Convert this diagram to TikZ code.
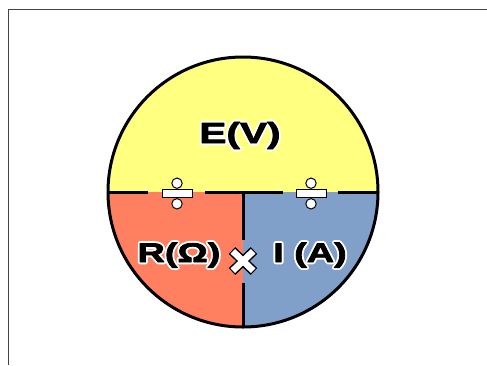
\documentclass[tikz,border=0pt]{standalone}
\usepackage{fontspec}
\usetikzlibrary{calc}
\newfontfamily\lblfont{Liberation Sans Bold}[FakeStretch=1.4]
\definecolor{cyel}{RGB}{255,255,128}
\definecolor{cred}{RGB}{255,128,96}
\definecolor{cblu}{RGB}{128,160,202}
\definecolor{cframe}{RGB}{68,68,68}
\tikzset{
  lbl/.style={inner sep=0pt, anchor=base},
  bigtxt/.style={font={\lblfont\fontsize{29pt}{29pt}\selectfont}},
  midtxt/.style={font={\lblfont\fontsize{27pt}{27pt}\selectfont}},
  rim/.style={line width=3pt, black},
  divider/.style={line width=3pt, black},
  opsym/.style={fill=white, draw=black, line width=1pt},
  frameline/.style={draw=cframe, line width=1.5pt}
}
\newcommand{\haloOn}{\special{pdf:literal direct 1 Tr 4.6 w 1 1 1 RG 1 j}}
\newcommand{\boldOn}{\special{pdf:literal direct 2 Tr 0.8 w 0 0 0 RG 1 j}}
\newcommand{\haloOff}{\special{pdf:literal direct 0 Tr}}
\newcommand{\haloText}[4]{%
  \node[lbl,#3,text=white] at (#2) {\haloOn#4\haloOff};
  \node[lbl,#3,text=black] (#1) at (#2) {\boldOn#4\haloOff};}
\newcommand{\divSym}[1]{%
  \path[opsym] ($(#1)+(-15,-4.3)$) rectangle ($(#1)+(15,4.3)$);
  \path[opsym] ($(#1)+(0,-10.3)$) circle[radius=5.2pt];
  \path[opsym] ($(#1)+(0,10.3)$) circle[radius=5.2pt];}
\begin{document}
\begin{tikzpicture}[x=1pt,y=-1pt]
\useasboundingbox (0,0) rectangle (487,365);
% frame
\coordinate (fTR) at (487,9.5);
\coordinate (fTL) at (8.5,9.5);
\coordinate (fBL) at (8.5,365);
\draw[frameline] (fTR) -- (fTL) -- (fBL);
% circle
\coordinate (O) at (243,192);
\coordinate (Lft) at (108,192);
\coordinate (Rgt) at (378,192);
\fill[cyel] (Lft) arc[start angle=180, end angle=0, radius=135pt] -- cycle;
\fill[cred] (O) -- (Lft) arc[start angle=180, end angle=270, radius=135pt] -- cycle;
\fill[cblu] (O) -- (Rgt) arc[start angle=0, end angle=-90, radius=135pt] -- cycle;
\draw[rim] (O) circle[radius=135pt];
% dividers
\coordinate (h1) at (148,192);
\coordinate (h2) at (205,192);
\coordinate (h3) at (283,192);
\coordinate (h4) at (338,192);
\coordinate (v1) at (243,240);
\coordinate (v2) at (243,283);
\coordinate (vB) at (243,327);
\draw[divider] (Lft) -- (h1);
\draw[divider] (h2) -- (h3);
\draw[divider] (h4) -- (Rgt);
\draw[divider] (O) -- (v1);
\draw[divider] (v2) -- (vB);
% operators
\coordinate (d1) at (177,193.5);
\coordinate (d2) at (311,193.5);
\divSym{d1}
\divSym{d2}
\coordinate (X) at (243,261);
\draw[line width=9.5pt, black] ($(X)+(-11,-10.5)$) -- ($(X)+(11,10.5)$);
\draw[line width=9.5pt, black] ($(X)+(-11,10.5)$) -- ($(X)+(11,-10.5)$);
\draw[line width=6.5pt, white] ($(X)+(-10.2,-9.7)$) -- ($(X)+(10.2,9.7)$);
\draw[line width=6.5pt, white] ($(X)+(-10.2,9.7)$) -- ($(X)+(10.2,-9.7)$);
% labels
\coordinate (pE) at (240,143);
\coordinate (pR) at (179,262);
\coordinate (pI) at (310,262);
\haloText{tE}{pE}{bigtxt}{E(V)}
\haloText{tR}{pR}{midtxt}{R(Ω)}
\haloText{tI}{pI}{midtxt}{I (A)}
\end{tikzpicture}
\end{document}
